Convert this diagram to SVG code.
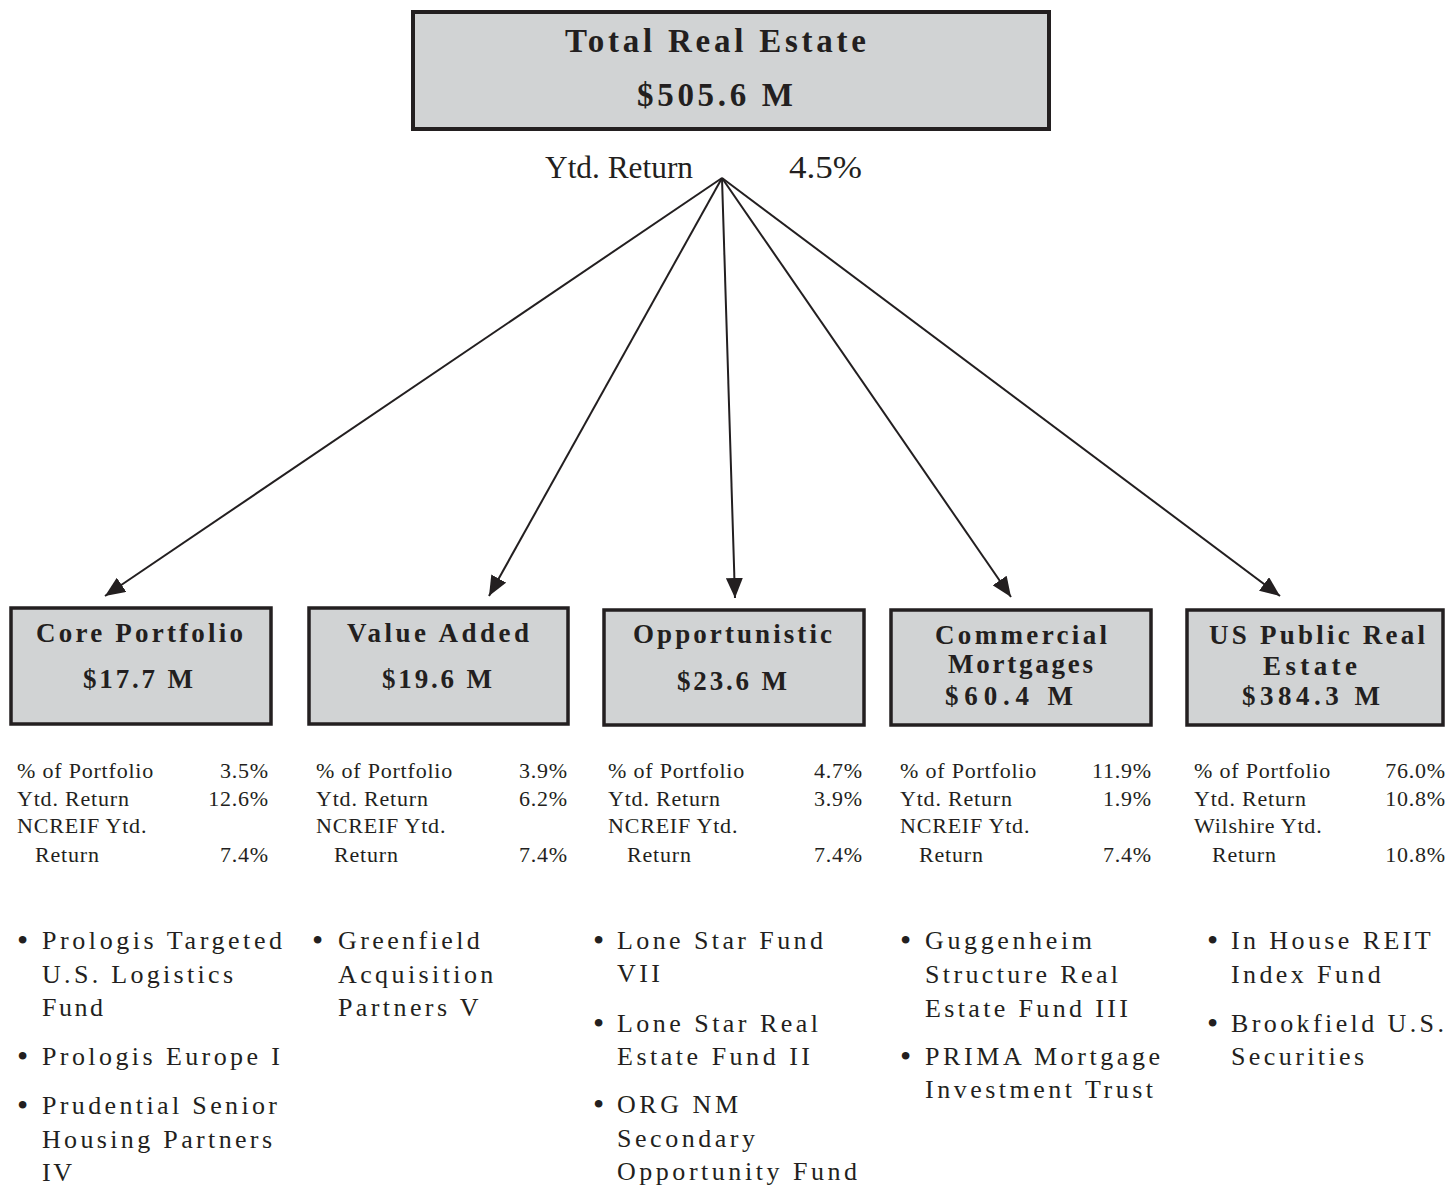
<svg xmlns="http://www.w3.org/2000/svg" width="1447" height="1185" viewBox="0 0 1447 1185">
<style>
.box{fill:#d1d3d4;stroke:#231f20;stroke-width:3.5}
.top{stroke-width:4}
.h{font-family:"Liberation Serif","Times New Roman",serif;font-weight:bold;fill:#231f20;font-size:27px}
.ht{font-size:33px}
.s{font-family:"Liberation Serif","Times New Roman",serif;fill:#231f20;font-size:22px;letter-spacing:0.8px}
.r{text-anchor:end}
.y{font-family:"Liberation Serif","Times New Roman",serif;fill:#231f20;font-size:32px}
.b{font-family:"Liberation Serif","Times New Roman",serif;fill:#231f20;font-size:26px;letter-spacing:3.4px}
.bt{font-family:"Liberation Serif","Times New Roman",serif;fill:#231f20;font-size:26px}
.dot{font-family:"Liberation Serif","Times New Roman",serif;fill:#231f20;font-size:32px}
.c{stroke:#231f20;stroke-width:2;fill:none;marker-end:url(#ah)}
</style>
<defs>
<marker id="ah" markerUnits="userSpaceOnUse" markerWidth="21" markerHeight="17" refX="20" refY="8.5" orient="auto">
<path d="M0,0 L20,8.5 L0,17 z" fill="#231f20"/>
</marker>
</defs>
<g id="connectors">
<line class="c" x1="722" y1="178" x2="105" y2="596"/>
<line class="c" x1="722" y1="178" x2="489" y2="596"/>
<line class="c" x1="722" y1="178" x2="735" y2="598"/>
<line class="c" x1="722" y1="178" x2="1011" y2="597"/>
<line class="c" x1="722" y1="178" x2="1280" y2="596"/>
</g>
<g id="total">
<rect class="box top" x="413" y="12" width="636" height="117"/>
<text class="h ht" x="565" y="52" textLength="301" lengthAdjust="spacing">Total Real Estate</text>
<text class="h ht" x="637" y="106" textLength="156" lengthAdjust="spacing">$505.6 M</text>
<text class="y" x="545" y="178" textLength="148" lengthAdjust="spacingAndGlyphs">Ytd. Return</text>
<text class="y" x="789" y="178" textLength="73" lengthAdjust="spacingAndGlyphs">4.5%</text>
</g>
<g id="core">
<rect class="box" x="11" y="608" width="260" height="116"/>
<text class="h" x="36" y="642" textLength="207" lengthAdjust="spacing">Core Portfolio</text>
<text class="h" x="83" y="688" textLength="110" lengthAdjust="spacing">$17.7 M</text>
<text class="s" x="17" y="778">% of Portfolio</text>
<text class="s r" x="269" y="778">3.5%</text>
<text class="s" x="17" y="806">Ytd. Return</text>
<text class="s r" x="269" y="806">12.6%</text>
<text class="s" x="17" y="833">NCREIF Ytd.</text>
<text class="s" x="35" y="862">Return</text>
<text class="s r" x="269" y="862">7.4%</text>
<text class="dot" x="17" y="951">•</text>
<text class="bt" x="42" y="949" textLength="240" lengthAdjust="spacing">Prologis Targeted</text>
<text class="bt" x="42" y="983" textLength="191" lengthAdjust="spacing">U.S. Logistics</text>
<text class="bt" x="42" y="1016" textLength="61" lengthAdjust="spacing">Fund</text>
<text class="dot" x="17" y="1067">•</text>
<text class="bt" x="42" y="1065" textLength="238" lengthAdjust="spacing">Prologis Europe I</text>
<text class="dot" x="17" y="1116">•</text>
<text class="bt" x="42" y="1114" textLength="235" lengthAdjust="spacing">Prudential Senior</text>
<text class="bt" x="42" y="1148" textLength="230" lengthAdjust="spacing">Housing Partners</text>
<text class="bt" x="42" y="1181" textLength="30" lengthAdjust="spacing">IV</text>
</g>
<g id="value-added">
<rect class="box" x="309" y="608" width="259" height="116"/>
<text class="h" x="347" y="642" textLength="182" lengthAdjust="spacing">Value Added</text>
<text class="h" x="382" y="688" textLength="110" lengthAdjust="spacing">$19.6 M</text>
<text class="s" x="316" y="778">% of Portfolio</text>
<text class="s r" x="568" y="778">3.9%</text>
<text class="s" x="316" y="806">Ytd. Return</text>
<text class="s r" x="568" y="806">6.2%</text>
<text class="s" x="316" y="833">NCREIF Ytd.</text>
<text class="s" x="334" y="862">Return</text>
<text class="s r" x="568" y="862">7.4%</text>
<text class="dot" x="312" y="951">•</text>
<text class="b" x="338" y="949">Greenfield</text>
<text class="b" x="338" y="983">Acquisition</text>
<text class="b" x="338" y="1016">Partners V</text>
</g>
<g id="opportunistic">
<rect class="box" x="604" y="610" width="260" height="115"/>
<text class="h" x="633" y="643" textLength="199" lengthAdjust="spacing">Opportunistic</text>
<text class="h" x="677" y="690" textLength="110" lengthAdjust="spacing">$23.6 M</text>
<text class="s" x="608" y="778">% of Portfolio</text>
<text class="s r" x="863" y="778">4.7%</text>
<text class="s" x="608" y="806">Ytd. Return</text>
<text class="s r" x="863" y="806">3.9%</text>
<text class="s" x="608" y="833">NCREIF Ytd.</text>
<text class="s" x="627" y="862">Return</text>
<text class="s r" x="863" y="862">7.4%</text>
<text class="dot" x="593" y="951">•</text>
<text class="bt" x="617" y="949" textLength="206" lengthAdjust="spacing">Lone Star Fund</text>
<text class="bt" x="617" y="982" textLength="43" lengthAdjust="spacing">VII</text>
<text class="dot" x="593" y="1034">•</text>
<text class="bt" x="617" y="1032" textLength="201" lengthAdjust="spacing">Lone Star Real</text>
<text class="bt" x="617" y="1065" textLength="193" lengthAdjust="spacing">Estate Fund II</text>
<text class="dot" x="593" y="1115">•</text>
<text class="bt" x="617" y="1113" textLength="121" lengthAdjust="spacing">ORG NM</text>
<text class="bt" x="617" y="1147" textLength="138" lengthAdjust="spacing">Secondary</text>
<text class="bt" x="617" y="1180" textLength="240" lengthAdjust="spacing">Opportunity Fund</text>
</g>
<g id="commercial-mortgages">
<rect class="box" x="891" y="610" width="260" height="115"/>
<text class="h" x="935" y="644" textLength="172" lengthAdjust="spacing">Commercial</text>
<text class="h" x="948" y="673" textLength="145" lengthAdjust="spacing">Mortgages</text>
<text class="h" x="945" y="705" textLength="128" lengthAdjust="spacing">$60.4 M</text>
<text class="s" x="900" y="778">% of Portfolio</text>
<text class="s r" x="1152" y="778">11.9%</text>
<text class="s" x="900" y="806">Ytd. Return</text>
<text class="s r" x="1152" y="806">1.9%</text>
<text class="s" x="900" y="833">NCREIF Ytd.</text>
<text class="s" x="919" y="862">Return</text>
<text class="s r" x="1152" y="862">7.4%</text>
<text class="dot" x="900" y="951">•</text>
<text class="bt" x="925" y="949" textLength="167" lengthAdjust="spacing">Guggenheim</text>
<text class="bt" x="925" y="983" textLength="193" lengthAdjust="spacing">Structure Real</text>
<text class="bt" x="925" y="1017" textLength="203" lengthAdjust="spacing">Estate Fund III</text>
<text class="dot" x="900" y="1067">•</text>
<text class="bt" x="925" y="1065" textLength="235" lengthAdjust="spacing">PRIMA Mortgage</text>
<text class="bt" x="925" y="1098" textLength="228" lengthAdjust="spacing">Investment Trust</text>
</g>
<g id="us-public-real-estate">
<rect class="box" x="1187" y="610" width="256" height="115"/>
<text class="h" x="1209" y="644" textLength="216" lengthAdjust="spacing">US Public Real</text>
<text class="h" x="1263" y="675" textLength="94" lengthAdjust="spacing">Estate</text>
<text class="h" x="1242" y="705" textLength="138" lengthAdjust="spacing">$384.3 M</text>
<text class="s" x="1194" y="778">% of Portfolio</text>
<text class="s r" x="1446" y="778">76.0%</text>
<text class="s" x="1194" y="806">Ytd. Return</text>
<text class="s r" x="1446" y="806">10.8%</text>
<text class="s" x="1194" y="833">Wilshire Ytd.</text>
<text class="s" x="1212" y="862">Return</text>
<text class="s r" x="1446" y="862">10.8%</text>
<text class="dot" x="1207" y="951">•</text>
<text class="b" x="1231" y="949">In House REIT</text>
<text class="b" x="1231" y="983">Index Fund</text>
<text class="dot" x="1207" y="1034">•</text>
<text class="b" x="1231" y="1032">Brookfield U.S.</text>
<text class="b" x="1231" y="1065">Securities</text>
</g>
</svg>
